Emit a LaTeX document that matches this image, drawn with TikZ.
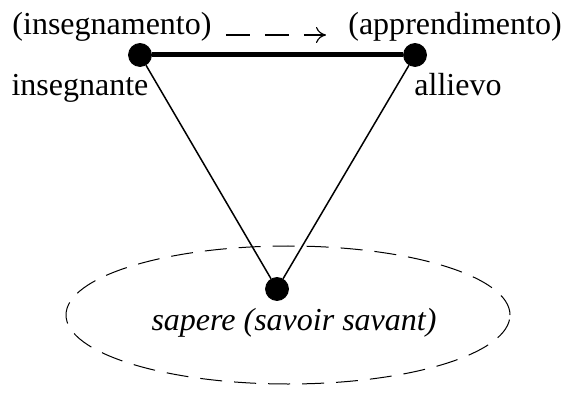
\documentclass[tikz,border=0pt]{standalone}
\usepackage{fontspec}
\setmainfont{Liberation Serif}
\usetikzlibrary{
	arrows.meta,
	shapes.geometric
}

\begin{document}
\begin{tikzpicture}[
  x=0.5pt, y=-0.5pt,
  font=\fontsize{16}{19}\selectfont,
  vertice/.style={circle, draw, fill=black, inner sep=0pt, minimum size=11.5pt},
  lato/.style={line width=0.75pt},
  etichetta/.style={inner sep=0pt, anchor=base},
  freccia/.style={-{To[length=5pt, width=8pt]}, line width=0.6pt,
    dash pattern=on 12pt off 7.5pt, shorten <=7pt, shorten >=11pt}
]
\useasboundingbox (0,0) rectangle (565,394);
% il sapere
\node[ellipse, draw, dash pattern=on 11pt off 6pt, line width=0.5pt,
  minimum width=222pt, minimum height=69pt] (campo) at (288,315) {};
\node[etichetta, font=\fontsize{16}{19}\selectfont\itshape] (sapere) at (294,330)
  {sapere (savoir savant)};
% vertici del triangolo
\node[vertice] (ins) at (140,55) {};
\node[vertice] (all) at (415,55) {};
\node[vertice] (sap) at (277,289) {};
\draw[line width=2.5pt] (ins) -- (all);
\draw[lato] (ins) -- (sap);
\draw[lato] (all) -- (sap);
% etichette
\node[etichetta] (insegnante) at (80,96) {insegnante};
\node[etichetta] (allievo) at (458,96) {allievo};
\node[etichetta] (insegnamento) at (112,35) {(insegnamento)};
\node[etichetta] (apprendimento) at (455,35) {(apprendimento)};
\draw[freccia] (insegnamento.base east) -- (apprendimento.base west);
\end{tikzpicture}
\end{document}
